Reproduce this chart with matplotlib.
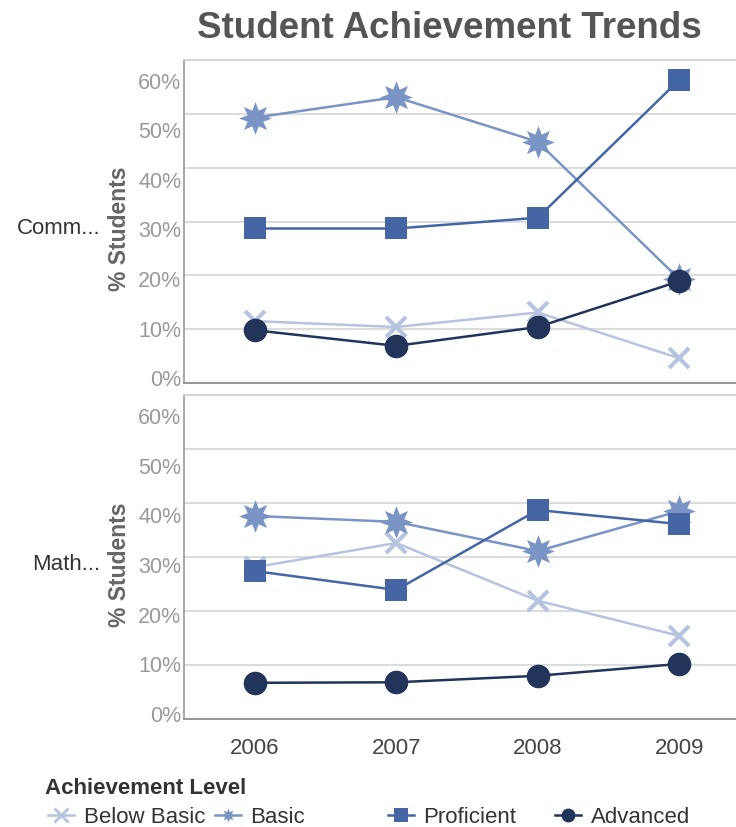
import numpy as np
import matplotlib
matplotlib.use("Agg")
import matplotlib.pyplot as plt
from matplotlib.lines import Line2D
from matplotlib.path import Path

plt.rcParams["font.family"] = ["Liberation Sans", "DejaVu Sans"]

years = ["2006", "2007", "2008", "2009"]
levels = ["Below Basic", "Basic", "Proficient", "Advanced"]
subjects = ["Comm...", "Math..."]

# % students per level, one list per subject panel
comm_below = [11.5, 10.4, 13.1, 4.6]
comm_basic = [49.3, 53.1, 44.8, 19.3]
comm_prof = [28.7, 28.7, 30.7, 56.3]
comm_adv = [9.8, 6.9, 10.4, 18.9]

math_below = [28.1, 32.6, 21.9, 15.4]
math_basic = [37.6, 36.5, 31.1, 38.5]
math_prof = [27.4, 23.9, 38.7, 36.1]
math_adv = [6.7, 6.8, 8.0, 10.2]

y_ticks = [0, 10, 20, 30, 40, 50, 60]

# fatter 8-point star than matplotlib's default
ang = np.pi / 2 + np.arange(16) * np.pi / 8
rad = np.where(np.arange(16) % 2 == 0, 1.0, 0.52)
star_verts = np.column_stack([rad * np.cos(ang), rad * np.sin(ang)])
star = Path(np.vstack([star_verts, star_verts[:1]]), closed=True)

colors = ["#b6c4e0", "#7b94c6", "#4565a5", "#22345a"]
markers = ["x", star, "s", "o"]
msizes = [15, 23.5, 16, 17]
mews = [3, 0, 0, 0]

panels = [
    (comm_below, comm_basic, comm_prof, comm_adv),
    (math_below, math_basic, math_prof, math_adv),
]

W, H = 736, 828
fig = plt.figure(figsize=(W / 100, H / 100), dpi=100)

# axes boxes in pixels: left, top, right, bottom
boxes = [(184, 61, 750, 384), (184, 396, 750, 720)]

for i, (series, (l, t, r, b)) in enumerate(zip(panels, boxes)):
    ax = fig.add_axes([l / W, 1 - b / H, (r - l) / W, (b - t) / H])
    x = range(len(years))
    for vals, c, m, ms, mw in zip(series, colors, markers, msizes, mews):
        ax.plot(x, vals, color=c, lw=1.8, marker=m, ms=ms, mec=c, mfc=c,
                mew=mw, zorder=3, clip_on=False)
    ax.set_xlim(-0.5, 3.5)
    ax.set_ylim(0, 60)

    ax.set_yticks(y_ticks)
    ax.set_yticklabels([])
    ax.tick_params(axis="y", which="major", length=0)
    # the labels sit a little off the gridlines in the original
    label_pos = [1.1 + 0.92 * v for v in y_ticks]
    ax.set_yticks(label_pos, [f"{v}%" for v in y_ticks], minor=True)
    ax.tick_params(axis="y", which="minor", length=0, pad=2,
                   labelsize=15.5, labelcolor="#9a9a9a")
    ax.grid(axis="y", which="major", color="#d6d6d6", lw=1.2, zorder=0)

    ax.set_xticks(list(x))
    if i == 1:
        ax.set_xticklabels(years, fontsize=16, color="#444444")
        ax.tick_params(axis="x", length=0, pad=13)
    else:
        ax.set_xticklabels([])
        ax.tick_params(axis="x", length=0)

    ax.spines["right"].set_visible(False)
    ax.spines["top"].set_color("#d0d0d0")
    ax.spines["left"].set_color("#9a9a9a")
    ax.spines["bottom"].set_color("#8a8a8a")
    for s in ax.spines.values():
        s.set_linewidth(1.2)

    ax.set_ylabel("% Students", fontsize=16.5, fontweight="bold",
                  color="#666666")
    ax.yaxis.set_label_coords(-0.093, 0.48)

    fig.text(100 / W, 1 - ((t + b) / 2 + 6) / H, subjects[i], ha="right",
             va="center", fontsize=16, color="#333333")

fig.text(449 / W, 1 - 28 / H, "Student Achievement Trends", ha="center",
         va="center", fontsize=26.5, fontweight="bold", color="#555555")

# legend
fig.text(45 / W, 1 - 789 / H, "Achievement Level", ha="left", va="center",
         fontsize=16, fontweight="bold", color="#333333")
leg_x = [48, 215, 388, 555]
for name, c, m, lx in zip(levels, colors, markers, leg_x):
    h = Line2D([], [], color=c, lw=1.8, marker=m, ms=10, mec=c, mfc=c,
               mew=2 if m == "x" else 0)
    lg = fig.legend([h], [name], loc="center left",
                    bbox_to_anchor=(lx / W, 1 - 818 / H), frameon=False,
                    fontsize=16, handlelength=1.15, handletextpad=0.45,
                    borderaxespad=0, borderpad=0)
    for txt in lg.get_texts():
        txt.set_color("#333333")

fig.savefig("out.png", dpi=100)
